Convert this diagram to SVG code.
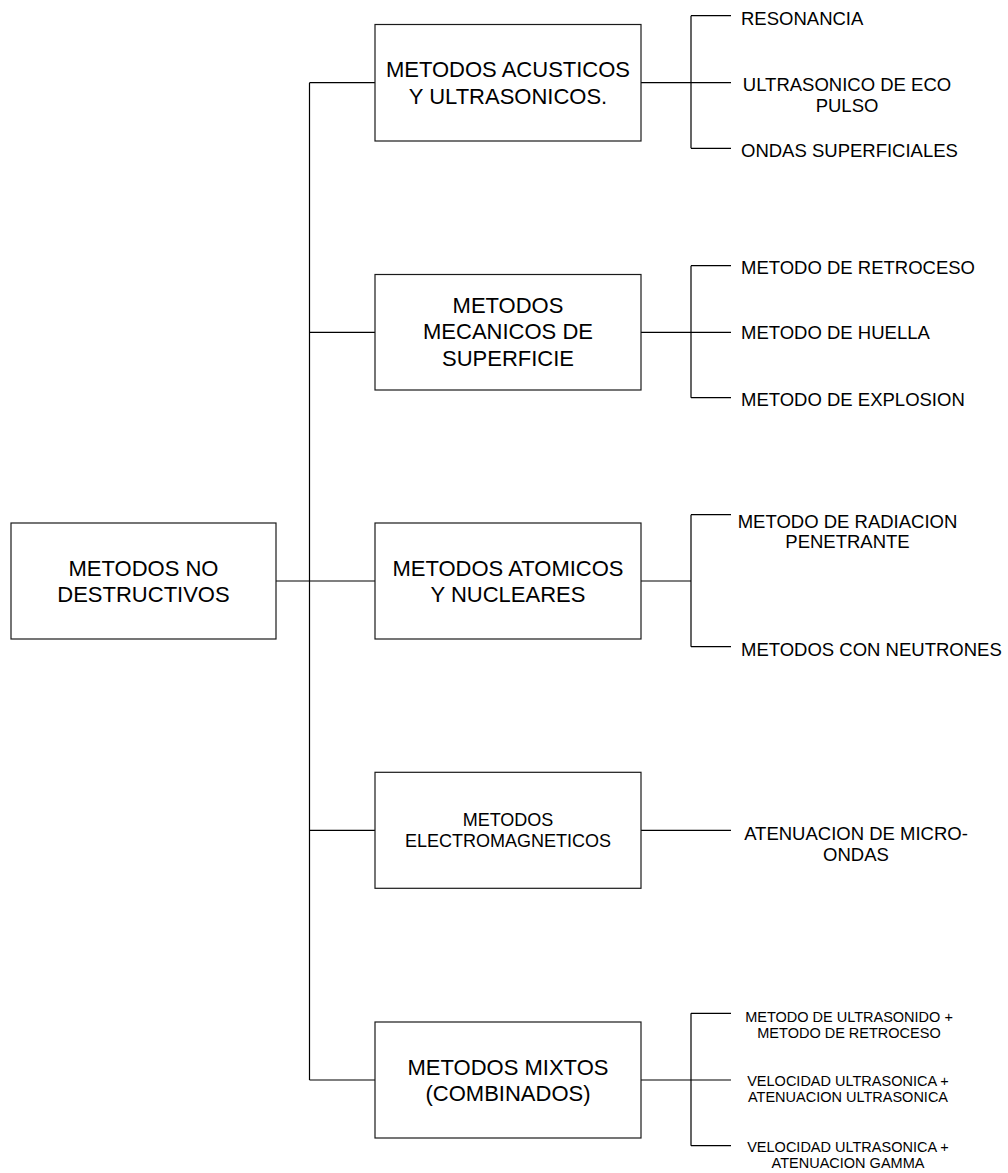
<svg xmlns="http://www.w3.org/2000/svg" width="1008" height="1173" viewBox="0 0 1008 1173">
<style>
  .box { fill: #ffffff; stroke: #1a1a1a; stroke-width: 1.2; }
  .conn { fill: none; stroke: #000000; stroke-width: 1.2; }
  text { font-family: "Liberation Sans", Arial, Helvetica, sans-serif; fill: #000000; }
  .big { font-size: 22px; text-anchor: middle; }
  .mid { font-size: 18px; text-anchor: middle; }
  .leaf { font-size: 18.5px; }
  .leafc { font-size: 18.5px; text-anchor: middle; }
  .small { font-size: 14.5px; text-anchor: middle; }
</style>
<rect x="0" y="0" width="1008" height="1173" fill="#ffffff"/>

<g id="connectors">
  <!-- root to trunk -->
  <path class="conn" d="M276 581 H309.5"/>
  <!-- trunk -->
  <path class="conn" d="M309.5 82.7 V1080"/>
  <path class="conn" d="M309.5 82.7 H375"/>
  <path class="conn" d="M309.5 332.3 H375"/>
  <path class="conn" d="M309.5 581 H375"/>
  <path class="conn" d="M309.5 830.3 H375"/>
  <path class="conn" d="M309.5 1080 H375"/>
  <!-- box 1 bracket -->
  <path class="conn" d="M641 82.7 H691 M691 15.7 V148.3 M691 15.7 H731 M691 82.7 H731 M691 148.3 H731"/>
  <!-- box 2 bracket -->
  <path class="conn" d="M641 332.3 H691 M691 265.7 V397.7 M691 265.7 H731 M691 332.3 H731 M691 397.7 H731"/>
  <!-- box 3 bracket -->
  <path class="conn" d="M641 581 H691 M691 514.7 V646.7 M691 514.7 H731 M691 646.7 H731"/>
  <!-- box 4 -->
  <path class="conn" d="M641 830.3 H731"/>
  <!-- box 5 bracket -->
  <path class="conn" d="M641 1080 H691 M691 1013.3 V1145.7 M691 1013.3 H731 M691 1080 H731 M691 1145.7 H731"/>
</g>

<g id="root">
  <rect class="box" x="11" y="523" width="265" height="116"/>
  <text class="big" x="143.5" y="575.5">METODOS NO</text>
  <text class="big" x="143.5" y="602">DESTRUCTIVOS</text>
</g>

<g id="acusticos">
  <rect class="box" x="375" y="24.5" width="266" height="116.5"/>
  <text class="big" x="508" y="77">METODOS ACUSTICOS</text>
  <text class="big" x="508" y="103.5">Y ULTRASONICOS.</text>
</g>

<g id="mecanicos">
  <rect class="box" x="375" y="274.5" width="266" height="115.5"/>
  <text class="big" x="508" y="312.5">METODOS</text>
  <text class="big" x="508" y="339">MECANICOS DE</text>
  <text class="big" x="508" y="365.5">SUPERFICIE</text>
</g>

<g id="atomicos">
  <rect class="box" x="375" y="523" width="266" height="116"/>
  <text class="big" x="508" y="575.5">METODOS ATOMICOS</text>
  <text class="big" x="508" y="602">Y NUCLEARES</text>
</g>

<g id="electromagneticos">
  <rect class="box" x="375" y="772.3" width="266" height="116"/>
  <text class="mid" x="508" y="825.5">METODOS</text>
  <text class="mid" x="508" y="847">ELECTROMAGNETICOS</text>
</g>

<g id="mixtos">
  <rect class="box" x="375" y="1022" width="266" height="116"/>
  <text class="big" x="508" y="1074.5">METODOS MIXTOS</text>
  <text class="big" x="508" y="1101">(COMBINADOS)</text>
</g>

<g id="resonancia"><text class="leaf" x="741" y="25">RESONANCIA</text></g>
<g id="eco-pulso">
  <text class="leafc" x="847" y="90.7">ULTRASONICO DE ECO</text>
  <text class="leafc" x="847" y="111.7">PULSO</text>
</g>
<g id="ondas-superficiales"><text class="leaf" x="741" y="156.7">ONDAS SUPERFICIALES</text></g>

<g id="retroceso"><text class="leaf" x="741" y="274">METODO DE RETROCESO</text></g>
<g id="huella"><text class="leaf" x="741" y="339.3">METODO DE HUELLA</text></g>
<g id="explosion"><text class="leaf" x="741" y="406">METODO DE EXPLOSION</text></g>

<g id="radiacion">
  <text class="leafc" x="847.5" y="528">METODO DE RADIACION</text>
  <text class="leafc" x="847.5" y="548">PENETRANTE</text>
</g>
<g id="neutrones"><text class="leaf" x="741" y="656">METODOS CON NEUTRONES</text></g>

<g id="microondas">
  <text class="leafc" x="856" y="840">ATENUACION DE MICRO-</text>
  <text class="leafc" x="856" y="861">ONDAS</text>
</g>

<g id="ultrasonido-retroceso">
  <text class="small" x="849" y="1022">METODO DE ULTRASONIDO +</text>
  <text class="small" x="849" y="1037.5">METODO DE RETROCESO</text>
</g>
<g id="vel-aten-ultra">
  <text class="small" x="848" y="1086">VELOCIDAD ULTRASONICA +</text>
  <text class="small" x="848" y="1101.7">ATENUACION ULTRASONICA</text>
</g>
<g id="vel-aten-gamma">
  <text class="small" x="848" y="1151.7">VELOCIDAD ULTRASONICA +</text>
  <text class="small" x="848" y="1167.7">ATENUACION GAMMA</text>
</g>
</svg>
